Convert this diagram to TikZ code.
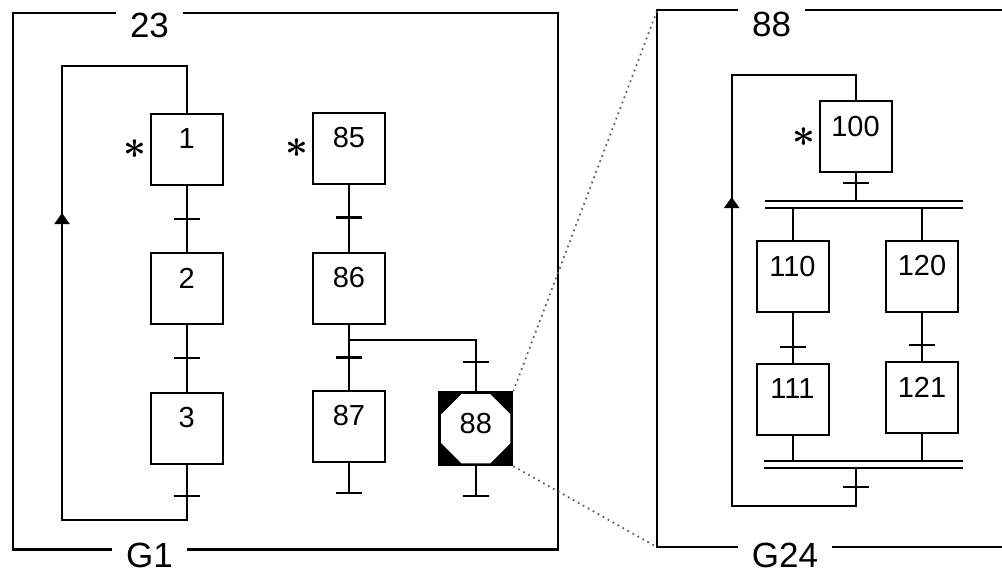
\documentclass[tikz,border=0pt]{standalone}
\usepackage{amsmath}
\usepackage{fontspec}
\setmainfont{Liberation Sans}
\usetikzlibrary{positioning,arrows.meta,shapes.geometric}

\newcommand{\titlefont}{\fontsize{35}{40}\selectfont}
\newcommand{\stepfont}{\fontsize{29}{33}\selectfont}
\newcommand{\initstar}{\scalebox{1.6}{$\boldsymbol{\ast}$}}

\tikzset{
    stepbox/.style={draw, line width=2pt, minimum width=72pt, minimum height=71pt, inner sep=0pt,
        label={[font=\stepfont, anchor=center, yshift=-26pt]north:#1}},
    framename/.style={font=\titlefont, inner xsep=14pt, inner ysep=0pt},
    initmark/.style={font=\fontsize{24}{28}\selectfont, inner sep=0pt},
    link/.style={line width=2pt},
    trans/.style={line width=2.2pt},
    frame/.style={line width=2.2pt},
    syncbar/.style={line width=1.8pt},
    zoomline/.style={black!65, line width=1.7pt, dash pattern=on 1.7pt off 4pt},
}

\begin{document}
\begin{tikzpicture}[x=1pt, y=-1pt]
    \useasboundingbox (0,0) rectangle (1002,574);

    % graph G1
    \coordinate (f1nw) at (12.7,13.3);
    \coordinate (f1se) at (557.7,549.5);
    \node[framename] (n23) at (149.5,25) {23};
    \node[framename] (nG1) at (149.5,555.5) {G1};
    \draw[frame] (n23.west |- f1nw) -- (f1nw) -- (f1nw |- f1se) -- (nG1.west |- f1se);
    \draw[frame] (nG1.east |- f1se) -- (f1se) -- (f1se |- f1nw) -- (n23.east |- f1nw);

    \node[stepbox=1] (s1) at (186.7,149) {};
    \node[stepbox=2] (s2) at (186.7,288.8) {};
    \node[stepbox=3] (s3) at (186.7,428.5) {};
    \node[initmark, left=3pt of s1] (i1) {\initstar};

    \coordinate (l1b) at (62,520);
    \coordinate (l1t) at (62,66);
    \coordinate (l1a) at (62,213);
    \draw[link] (s1.south) -- (s2.north);
    \draw[link] (s2.south) -- (s3.north);
    \draw[link] (s3.south) |- (l1b) -- (l1t) -| (s1.north);
    \draw[link, -{Triangle[length=11pt, width=15pt]}] (l1b) -- (l1a);

    \node[stepbox=85] (s85) at (349,148.5) {};
    \node[stepbox=86] (s86) at (349,288) {};
    \node[stepbox=87] (s87) at (349,426.3) {};
    \node[initmark, left=3pt of s85] (i85) {\initstar};
    \node[draw, line width=2pt, fill=black, minimum width=73pt, minimum height=73pt, inner sep=0pt] (m88) at (475.8,428.7) {};
    \node[regular polygon, regular polygon sides=8, fill=white, minimum size=75pt, inner sep=0pt] (o88) at (m88.center) {};
    \node[font=\stepfont] (t88) at ([yshift=5pt]m88.center) {88};

    \coordinate (b86) at (349,340);
    \coordinate (e87) at (349,493.3);
    \coordinate (e88) at (475.8,496);
    \draw[link] (s85.south) -- (s86.north);
    \draw[link] (s86.south) -- (s87.north);
    \draw[link] (b86) -| (m88.north);
    \draw[link] (s87.south) -- (e87);
    \draw[link] (m88.south) -- (e88);

    % graph G24
    \coordinate (f2nw) at (657.3,10);
    \coordinate (f2sw) at (657.3,547.3);
    \coordinate (f2ne) at (1002,10);
    \coordinate (f2se) at (1002,547.3);
    \node[framename] (n88) at (771.7,24.5) {88};
    \node[framename] (nG24) at (785,555.5) {G24};
    \draw[frame] (n88.west |- f2nw) -- (f2nw) -- (f2sw) -- (nG24.west |- f2sw);
    \draw[frame] (nG24.east |- f2sw) -- (f2se);
    \draw[frame] (n88.east |- f2nw) -- (f2ne);

    \draw[zoomline] (m88.north east) -- (f2nw);
    \draw[zoomline] (m88.south east) -- (f2sw);

    \node[stepbox=100] (s100) at (855.5,136.7) {};
    \node[stepbox=110] (s110) at (792.5,276.7) {};
    \node[stepbox=120] (s120) at (922,276.2) {};
    \node[stepbox=111] (s111) at (792.5,399.2) {};
    \node[stepbox=121] (s121) at (922,397.5) {};
    \node[initmark, left=3pt of s100] (i100) {\initstar};

    \coordinate (dtop) at (765,200.7);
    \coordinate (dtopb) at (765,208.3);
    \coordinate (dbot) at (764.3,460.7);
    \coordinate (dbotb) at (764.3,468.3);
    \draw[syncbar] (dtop) -- ++(198.3,0) (dtopb) -- ++(198.3,0);
    \draw[syncbar] (dbot) -- ++(199,0) (dbotb) -- ++(199,0);

    \coordinate (l2b) at (731.7,506);
    \coordinate (l2t) at (731.7,75);
    \coordinate (l2a) at (731.7,197);
    \draw[link] (s100.south) -- (s100.south |- dtop);
    \draw[link] (s110.north |- dtopb) -- (s110.north);
    \draw[link] (s120.north |- dtopb) -- (s120.north);
    \draw[link] (s110.south) -- (s111.north);
    \draw[link] (s120.south) -- (s121.north);
    \draw[link] (s111.south) -- (s111.south |- dbot);
    \draw[link] (s121.south) -- (s121.south |- dbot);
    \draw[link] (s100.south |- dbotb) |- (l2b) -- (l2t) -| (s100.north);
    \draw[link, -{Triangle[length=11pt, width=15pt]}] (l2b) -- (l2a);

    \foreach \x/\y in {186.7/218.6, 186.7/358.3, 186.7/496, 349/217.5, 349/357.5, 475.8/361.7,
            349/493.3, 475.8/496, 855.5/182.7, 792.5/346.7, 922/345, 855.5/487.3} {
        \draw[trans] (\x-13,\y) -- (\x+13,\y);
    }
\end{tikzpicture}
\end{document}
